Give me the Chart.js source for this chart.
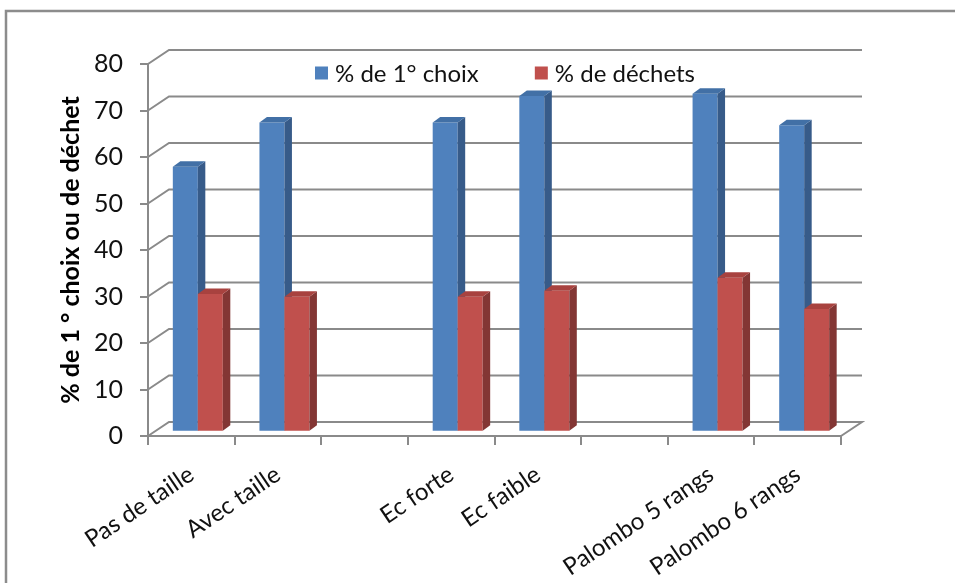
<!DOCTYPE html>
<html lang="fr">
<head>
<meta charset="utf-8">
<title>% de 1° choix ou de déchet</title>
<script src="https://cdn.jsdelivr.net/npm/chart.js@4/dist/chart.umd.min.js"></script>
<style>
  html, body { margin: 0; padding: 0; background: #ffffff; }
  #wrap { position: relative; width: 955px; height: 583px; }
</style>
</head>
<body>
<div id="wrap"><canvas id="chart" width="955" height="583"></canvas></div>
<script>
// Categories (blank entries leave a gap between the groups of treatments)
const categories = ['Pas de taille', 'Avec taille', '', 'Ec forte', 'Ec faible', '', 'Palombo 5 rangs', 'Palombo 6 rangs'];
const seriesNames = ['% de 1° choix', '% de déchets'];
const premierChoix = [57.0, 66.5, null, 66.5, 72.2, null, 72.7, 65.9];
const dechets = [29.6, 29.0, null, 29.0, 30.3, null, 33.1, 26.4];
const yTickMin = 0;
const yTickMax = 80;
const yTickStep = 10;
const yAxisTitle = '% de 1 ° choix ou de déchet';

const FONT = 'Lato, Calibri, "Liberation Sans", sans-serif';
const AXIS_GREY = '#8a8a8a';
const TEXT = '#111111';

// Face colours of the boxes: front, right side, top
const faces = [
  { front: '#4f81bd', side: '#375b89', top: '#4270a6' },
  { front: '#c0504d', side: '#833634', top: '#a8423f' }
];

// Depth of the back wall relative to the front axes
const WALL_DX = 21, WALL_DY = -14;
// Position of the bars' front faces inside the depth
const BAR_DX = 6.5, BAR_DY = -4.3;
// Thickness of each box
const BOX_DX = 7.5, BOX_DY = -5.5;

const frame = {
  id: 'frame',
  beforeDraw(chart) {
    const ctx = chart.ctx;
    ctx.save();
    ctx.strokeStyle = '#8c8c8c';
    ctx.lineWidth = 2.5;
    ctx.strokeRect(6, 11, chart.width + 20, chart.height + 20);
    ctx.restore();
  }
};

const box3d = {
  id: 'box3d',
  beforeDatasetsDraw(chart) {
    const ctx = chart.ctx;
    const ys = chart.scales.y;
    const left = chart.chartArea.left, right = chart.chartArea.right;

    // back wall and floor
    ctx.save();
    ctx.strokeStyle = AXIS_GREY;
    ctx.lineWidth = 2;
    ctx.lineCap = 'butt';
    ys.ticks.forEach(t => {
      const py = ys.getPixelForValue(t.value);
      ctx.beginPath();
      ctx.moveTo(left, py);
      ctx.lineTo(left + WALL_DX, py + WALL_DY);
      ctx.lineTo(right + WALL_DX, py + WALL_DY);
      if (t.value === yTickMin) ctx.lineTo(right, py);
      ctx.stroke();
    });
    ctx.restore();

    // boxes, series by series so the right-hand box hides its neighbour's side
    chart.data.datasets.forEach((ds, di) => {
      const meta = chart.getDatasetMeta(di);
      const f = faces[di];
      meta.data.forEach((bar, i) => {
        if (ds.data[i] === null || ds.data[i] === undefined) return;
        const p = bar.getProps(['x', 'y', 'base', 'width'], true);
        const xl = p.x - p.width / 2 + BAR_DX;
        const xr = p.x + p.width / 2 + BAR_DX;
        const top = p.y + BAR_DY;
        const bot = p.base + BAR_DY;

        ctx.save();
        ctx.translate(BAR_DX, BAR_DY);
        bar.draw(ctx);
        ctx.restore();

        ctx.save();
        ctx.fillStyle = f.side;
        ctx.beginPath();
        ctx.moveTo(xr, top);
        ctx.lineTo(xr + BOX_DX, top + BOX_DY);
        ctx.lineTo(xr + BOX_DX, bot + BOX_DY);
        ctx.lineTo(xr, bot);
        ctx.closePath();
        ctx.fill();

        ctx.fillStyle = f.top;
        ctx.beginPath();
        ctx.moveTo(xl, top);
        ctx.lineTo(xl + BOX_DX, top + BOX_DY);
        ctx.lineTo(xr + BOX_DX, top + BOX_DY);
        ctx.lineTo(xr, top);
        ctx.closePath();
        ctx.fill();
        ctx.restore();
      });
    });
    return false;
  }
};

const legendRow = {
  id: 'legendRow',
  afterDraw(chart) {
    const ctx = chart.ctx;
    const area = chart.chartArea;
    const sq = 13, gapText = 7, gapItem = 56;
    ctx.save();
    ctx.font = '24px ' + FONT;
    ctx.textBaseline = 'middle';
    ctx.textAlign = 'left';
    const items = chart.data.datasets.map((ds, i) => ({
      label: ds.label, color: faces[i].front, w: ctx.measureText(ds.label).width
    }));
    const total = items.reduce((s, it) => s + sq + gapText + it.w, 0) + gapItem * (items.length - 1);
    const cx = (area.left + area.right + WALL_DX) / 2;
    const cy = 73;
    let x = cx - total / 2;
    items.forEach(it => {
      ctx.fillStyle = it.color;
      ctx.fillRect(x, cy - sq / 2, sq, sq);
      x += sq + gapText;
      ctx.fillStyle = TEXT;
      ctx.fillText(it.label, x, cy + 1);
      x += it.w + gapItem;
    });
    ctx.restore();
  }
};

new Chart(document.getElementById('chart'), {
  type: 'bar',
  data: {
    labels: categories,
    datasets: [
      { label: seriesNames[0], data: premierChoix, backgroundColor: faces[0].front },
      { label: seriesNames[1], data: dechets, backgroundColor: faces[1].front }
    ]
  },
  options: {
    responsive: false,
    animation: false,
    events: [],
    categoryPercentage: 0.577,
    barPercentage: 1.0,
    layout: { padding: { left: 50, top: 64, right: 114, bottom: 0 } },
    plugins: {
      legend: { display: false },
      tooltip: { enabled: false },
      title: { display: false }
    },
    scales: {
      x: {
        grid: {
          offset: true,
          drawOnChartArea: false,
          drawTicks: true,
          tickLength: 9,
          color: AXIS_GREY,
          lineWidth: 2
        },
        border: { display: true, color: AXIS_GREY, width: 2 },
        ticks: {
          autoSkip: false,
          minRotation: 34,
          maxRotation: 34,
          padding: 15,
          color: TEXT,
          font: { family: FONT, size: 24 }
        },
        afterFit(scale) {
          scale.height = 583 - 436;
          scale.paddingLeft = 0;
          scale.paddingRight = 0;
        }
      },
      y: {
        min: yTickMin,
        max: yTickMax,
        grid: {
          drawOnChartArea: false,
          drawTicks: true,
          tickLength: 8,
          color: AXIS_GREY,
          lineWidth: 2
        },
        border: { display: true, color: AXIS_GREY, width: 2 },
        ticks: {
          stepSize: yTickStep,
          padding: 17,
          color: TEXT,
          font: { family: FONT, size: 25 }
        },
        title: {
          display: true,
          text: yAxisTitle,
          color: '#000000',
          padding: { top: 6, bottom: 0 },
          font: { family: FONT, size: 25, weight: 'bold' }
        },
        afterFit(scale) {
          scale.width = 148 - 50;
        }
      }
    }
  },
  plugins: [frame, box3d, legendRow]
});
</script>
</body>
</html>
